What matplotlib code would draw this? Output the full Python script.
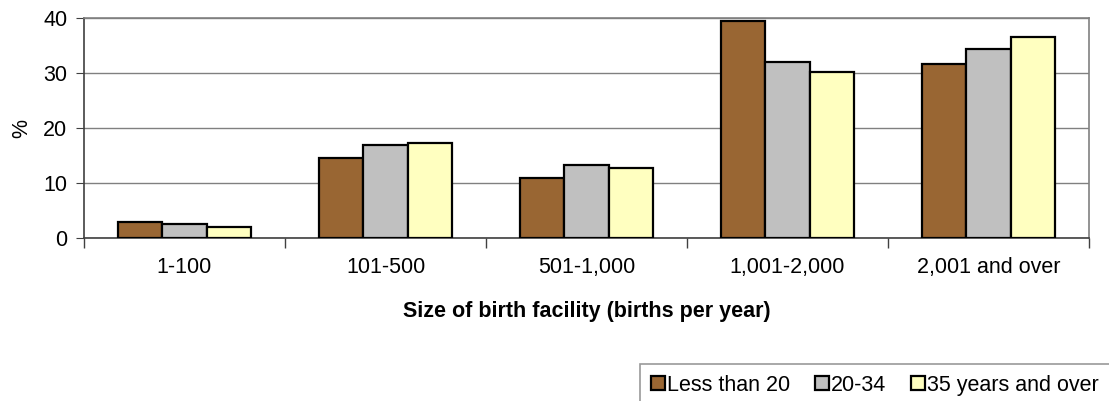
import numpy as np
import matplotlib
matplotlib.use("Agg")
import matplotlib.pyplot as plt

plt.rcParams['font.family'] = ['Liberation Sans', 'DejaVu Sans']

# facility size groups
categories = ['1-100', '101-500', '501-1,000', '1,001-2,000', '2,001 and over']
series_names = ['Less than 20', '20-34', '35 years and over']
less_than_20 = [2.9, 14.5, 11.0, 39.5, 31.6]
age_20_34 = [2.5, 17.0, 13.3, 32.0, 34.3]
age_35_over = [2.0, 17.3, 12.7, 30.1, 36.5]
colors = ['#996633', '#C0C0C0', '#FFFFC0']

FS = 15.5
W, H = 1109, 401
fig = plt.figure(figsize=(W / 100, H / 100), dpi=100)
ax = fig.add_axes([84 / W, 1 - 238 / H, (1089 - 84) / W, (238 - 18) / H])

x = np.arange(len(categories)) + 0.5
bw = 0.222
for i, (vals, name) in enumerate(zip([less_than_20, age_20_34, age_35_over], series_names)):
    ax.bar(x + (i - 1) * bw, vals, width=bw, color=colors[i], edgecolor='black',
           linewidth=1.6, label=name, zorder=3)

ax.set_xlim(0, len(categories))
ax.set_ylim(0, 40)
ax.set_yticks([0, 10, 20, 30, 40])
ax.yaxis.grid(True, color='#808080', linewidth=1, zorder=0)

ax.set_xticks(x)
ax.set_xticklabels(categories, fontsize=FS)
ax.tick_params(axis='x', which='major', length=0, pad=14)
ax.set_xticks(np.arange(len(categories) + 1), minor=True)
ax.tick_params(axis='x', which='minor', length=7, color='#404040', width=1)
ax.tick_params(axis='y', labelsize=FS, length=6, color='#404040', pad=6)

for s in ['top', 'right']:
    ax.spines[s].set_color('#808080')
for s in ['left', 'bottom']:
    ax.spines[s].set_color('#404040')
for s in ax.spines.values():
    s.set_linewidth(1.2)

ax.set_ylabel('%', fontsize=FS, labelpad=8)
fig.text((84 + 1089) / 2 / W, 1 - 312 / H, 'Size of birth facility (births per year)',
         ha='center', va='center', fontsize=FS, fontweight='bold')

leg = fig.legend(loc='upper left', bbox_to_anchor=(640 / W, 1 - 364 / H), ncol=3,
                 fontsize=FS, frameon=True, fancybox=False, edgecolor='#808080',
                 handlelength=0.65, handleheight=0.65, handletextpad=0.1,
                 columnspacing=1.15, borderpad=0.5, borderaxespad=0)
leg.get_frame().set_linewidth(1.2)

fig.savefig('out.png', dpi=100)
